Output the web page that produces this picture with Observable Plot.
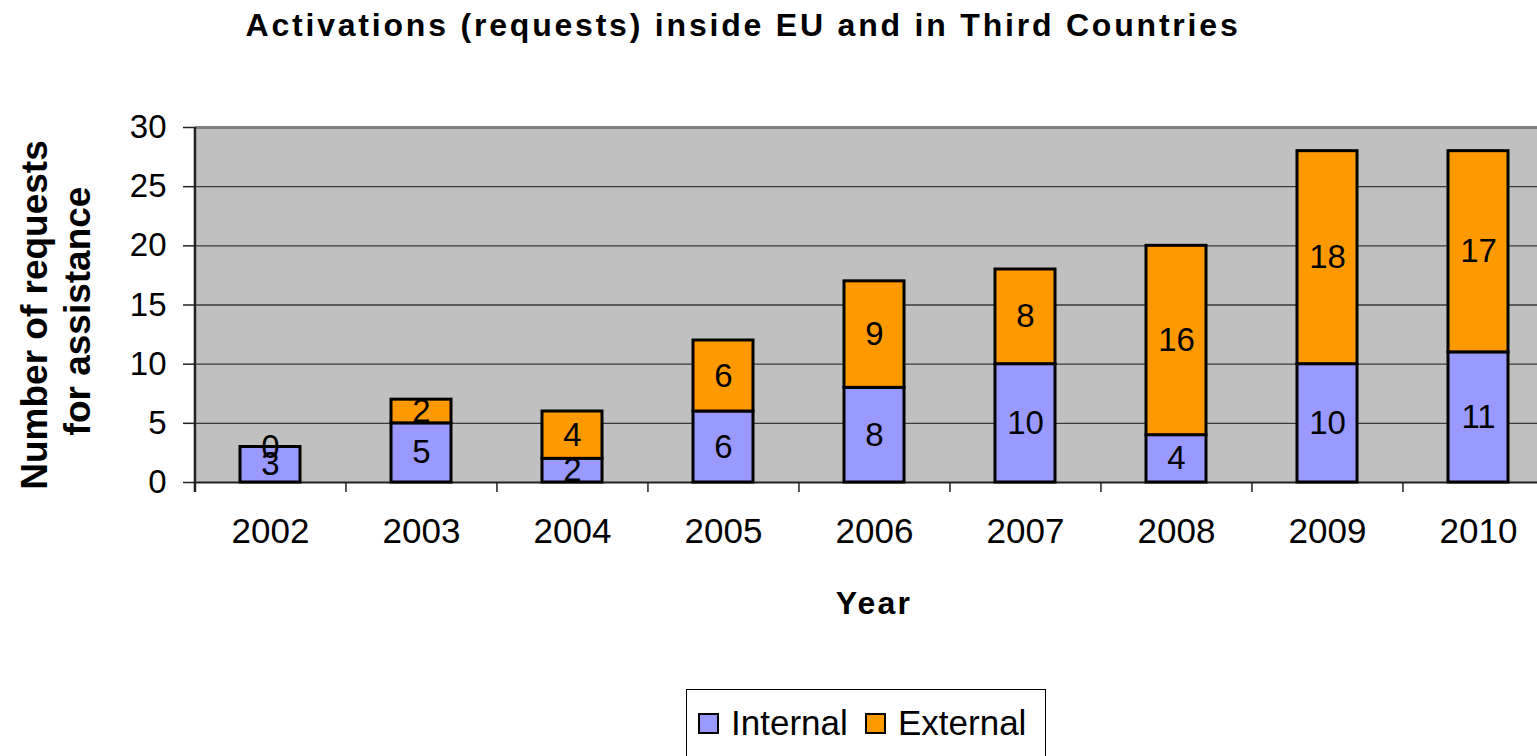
<!DOCTYPE html>
<html>
<head>
<meta charset="utf-8">
<script src="https://cdn.jsdelivr.net/npm/d3@7"></script>
<script src="https://cdn.jsdelivr.net/npm/@observablehq/plot@0.6"></script>
<style>
  html, body { margin: 0; padding: 0; background: #fff; overflow: hidden; }
  #wrap { position: relative; width: 1537px; height: 756px; overflow: hidden; font-family: "Liberation Sans", Arial, sans-serif; }
  #title { position: absolute; left: 0; top: 7px; width: 1486px; text-align: center; font-weight: bold; font-size: 32px; letter-spacing: 2.8px; white-space: nowrap; }
  #chart { position: absolute; left: 0; top: 0; }
  .ytitle { position: absolute; font-weight: bold; font-size: 37px; white-space: nowrap; transform: translate(-50%, -50%) rotate(-90deg); }
  #xtitle { position: absolute; left: 874px; top: 603px; transform: translate(-50%, -50%); font-weight: bold; font-size: 32px; letter-spacing: 2.2px; }
  #legend { position: absolute; left: 686px; top: 689px; width: 360px; height: 80px; border: 1px solid #000; box-sizing: border-box; }
  .item { position: absolute; top: 33px; font-size: 35px; display: flex; align-items: center; transform: translateY(-50%); white-space: nowrap; }
  .sw { width: 17px; height: 17px; border: 2.5px solid #000; margin-right: 12px; box-sizing: content-box; }
</style>
</head>
<body>
<div id="wrap">
  <div id="title">Activations (requests) inside EU and in Third Countries</div>
  <div id="chart"></div>
  <div class="ytitle" style="left:35px; top:315px;">Number of requests</div>
  <div class="ytitle" style="left:78px; top:311px;">for assistance</div>
  <div id="xtitle">Year</div>
  <div id="legend"></div>
</div>
<script>
const years = ["2002","2003","2004","2005","2006","2007","2008","2009","2010"];
const internal = [3, 5, 2, 6, 8, 10, 4, 10, 11];
const external = [0, 2, 4, 6, 9, 8, 16, 18, 17];
const seriesNames = ["Internal", "External"];
const seriesColors = ["#9999ff", "#ff9900"];
const yTicks = [0, 5, 10, 15, 20, 25, 30];

const rows = [];
years.forEach((y, i) => {
  rows.push({year: y, type: "Internal", value: internal[i]});
  rows.push({year: y, type: "External", value: external[i]});
});

const W = 1537, H = 650;
const x0 = 194, band = 151.1;
const bandHalf = band / 2;

const plot = Plot.plot({
  width: W,
  height: H,
  marginTop: 127,
  marginBottom: H - 482,
  marginLeft: 195,
  marginRight: 0,
  style: {fontFamily: "'Liberation Sans', Arial, sans-serif", background: "transparent", overflow: "visible"},
  x: {domain: years, range: [x0, x0 + band * years.length], paddingInner: 0.6, paddingOuter: 0.3, label: null},
  y: {domain: [0, 30], range: [482, 127], ticks: yTicks, label: null},
  color: {domain: seriesNames, range: seriesColors},
  marks: [
    Plot.frame({fill: "#c0c0c0", stroke: "none"}),
    Plot.gridY(yTicks.filter(t => t > 0 && t < 30), {stroke: "#3a3a3a", strokeOpacity: 1, strokeWidth: 1.3}),
    Plot.ruleY([30], {stroke: "#808080", strokeWidth: 3}),
    Plot.ruleY([0], {stroke: "#222", strokeWidth: 2}),
    Plot.ruleX(years, {x: d => d, dx: -bandHalf, y1: 0, y2: -0.85, stroke: "#222", strokeWidth: 1.5}),
    Plot.ruleX([years[0]], {x: d => d, dx: -bandHalf, y1: -0.85, y2: 30, stroke: "#222", strokeWidth: 2.5}),
    Plot.barY(rows, {x: "year", y: "value", fill: "type", stroke: "#000", strokeWidth: 3}),
    Plot.text(rows, Plot.stackY({x: "year", y: "value", text: d => String(d.value), fontSize: 33, fill: "#000"})),
    Plot.axisY(yTicks, {tickSize: 12, tickPadding: 17, fontSize: 33, stroke: "#222", strokeWidth: 1.5, fill: "#000"}),
    Plot.axisX({tickSize: 0, tickPadding: 36, fontSize: 35, fill: "#000"})
  ]
});
document.getElementById("chart").appendChild(plot);

const legend = document.getElementById("legend");
const lefts = [11, 178];
seriesNames.forEach((n, i) => {
  const it = document.createElement("div");
  it.className = "item";
  it.style.left = lefts[i] + "px";
  const sw = document.createElement("div");
  sw.className = "sw";
  sw.style.background = seriesColors[i];
  it.appendChild(sw);
  const t = document.createElement("span");
  t.textContent = n;
  it.appendChild(t);
  legend.appendChild(it);
});
</script>
</body>
</html>
